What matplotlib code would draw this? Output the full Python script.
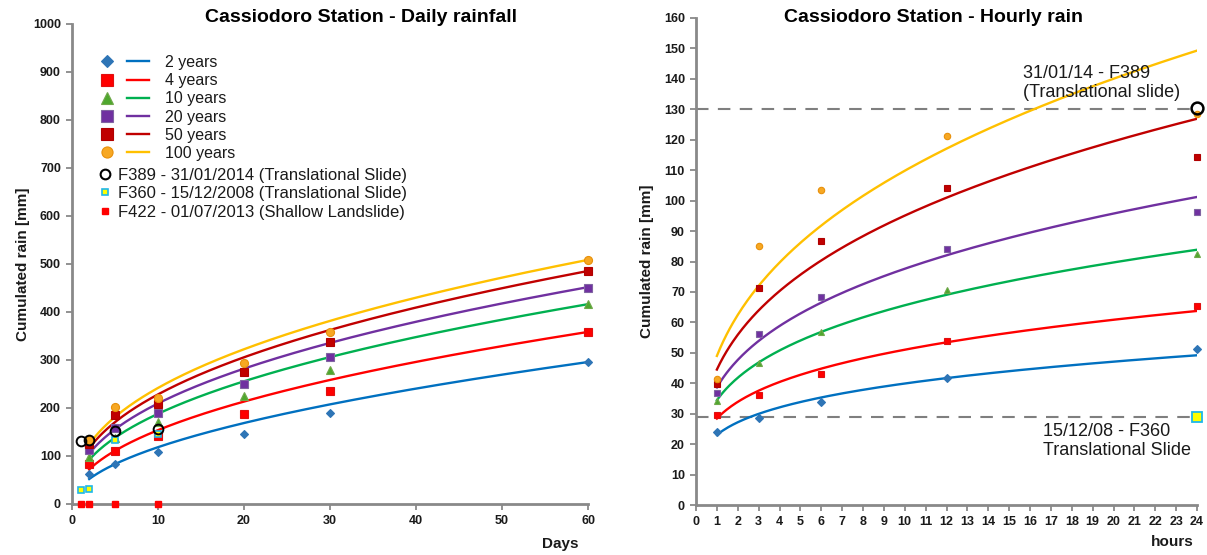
import numpy as np
import matplotlib
matplotlib.use("Agg")
import matplotlib.pyplot as plt
from matplotlib.lines import Line2D
from matplotlib.legend_handler import HandlerTuple

plt.rcParams['font.family'] = ['Liberation Sans', 'DejaVu Sans']

# ---------------- data: daily rainfall ----------------
days = [2, 5, 10, 20, 30, 60]
daily_rp2 = [62, 83, 109, 146, 190, 296]
daily_rp4 = [83, 110, 142, 187, 235, 358]
daily_rp10 = [98, 137, 171, 226, 279, 416]
daily_rp20 = [112, 158, 189, 251, 307, 451]
daily_rp50 = [125, 186, 208, 276, 338, 486]
daily_rp100 = [133, 203, 221, 294, 358, 508]
# trendline coefficients h = a * t^n
daily_curve_a = [36.5, 51.9, 67.6, 78.0, 86.6, 93.0]
daily_curve_n = [0.511, 0.472, 0.444, 0.429, 0.421, 0.415]

event_days = [1, 2, 5, 10]
f389_daily = [131, 133, 153, 156]
f360_daily = [29, 31, 133, 146]
f422_daily = [0, 0, 0, 0]

# ---------------- data: hourly rain ----------------
hours = [1, 3, 6, 12, 24]
hourly_rp2 = [24.1, 28.7, 34.0, 41.6, 51.1]
hourly_rp4 = [29.6, 36.0, 43.2, 54.0, 65.5]
hourly_rp10 = [34.3, 46.8, 56.8, 70.5, 82.6]
hourly_rp20 = [36.9, 56.3, 68.3, 84.2, 96.2]
hourly_rp50 = [39.8, 71.3, 86.8, 104.0, 114.3]
hourly_rp100 = [41.4, 85.0, 103.4, 121.2, 128.3]
f389_hour = [24]
f389_hourly = [130.4]
f360_hour = [24]
f360_hourly = [29.0]
threshold_f389 = 130
threshold_f360 = 29

labels = ["2 years", "4 years", "10 years", "20 years", "50 years", "100 years"]

# ---------------- styles ----------------
line_colors = ['#0070C0', '#FF0000', '#00B050', '#7030A0', '#C00000', '#FFC000']
mk_face = ['#2E75B6', '#FF0000', '#4EA72E', '#7030A0', '#C00000', '#F7A823']
mk_edge = ['#2E75B6', '#E01010', '#70A84A', '#8064A2', '#B00000', '#E8900A']
markers = ['D', 's', '^', 's', 's', 'o']
ms_left = [4, 5.2, 5.5, 5.2, 5.2, 5.8]
ms_right = [3.6, 4.6, 4.8, 4.6, 4.6, 4.6]
ms_leg = [5.8, 8, 8.5, 8, 8, 8]

spine_c = '#898989'
txt_c = '#1a1a1a'

fig = plt.figure(figsize=(12.07, 5.55), dpi=100)
W, H = 1207, 555
ax1 = fig.add_axes([72 / W, 51 / H, 516 / W, 480 / H])
ax2 = fig.add_axes([696 / W, 50 / H, 501 / W, 487 / H])

for ax in (ax1, ax2):
    for s in ('top', 'right'):
        ax.spines[s].set_visible(False)
    for s in ('left', 'bottom'):
        ax.spines[s].set_color(spine_c)
        ax.spines[s].set_linewidth(2)
    ax.tick_params(direction='out', length=4, width=1.3, color=spine_c,
                   labelsize=9, labelcolor=txt_c, pad=4)

# ---------------- left chart ----------------
daily_series = [daily_rp2, daily_rp4, daily_rp10, daily_rp20, daily_rp50, daily_rp100]
tt = np.linspace(min(days), max(days), 300)
for i, vals in enumerate(daily_series):
    ax1.plot(tt, daily_curve_a[i] * tt ** daily_curve_n[i], color=line_colors[i], lw=1.7, zorder=2)
for i, vals in enumerate(daily_series):
    ax1.plot(days, vals, ls='none', marker=markers[i], ms=ms_left[i],
             mfc=mk_face[i], mec=mk_edge[i], mew=0.8, zorder=3, clip_on=False)

ax1.plot(event_days, f422_daily, ls='none', marker='s', ms=3.8, mfc='#FF0000', mec='#FF0000',
         zorder=4, clip_on=False)
ax1.plot(event_days, f360_daily, ls='none', marker='s', ms=4.5, mfc='#FFFF00', mec='#1FB8E8',
         mew=1.2, zorder=4, clip_on=False)
ax1.plot(event_days, f389_daily, ls='none', marker='o', ms=7, mfc='none', mec='black',
         mew=1.4, zorder=5, clip_on=False)

ax1.set_xlim(0, 60)
ax1.set_ylim(0, 1000)
ax1.set_xticks(np.arange(0, 61, 10))
ax1.set_yticks(np.arange(0, 1001, 100))
for lab in ax1.get_xticklabels() + ax1.get_yticklabels():
    lab.set_fontweight('bold')

# legend: marker + line for each return period
rp_handles = []
for i in range(6):
    m = Line2D([], [], ls='none', marker=markers[i], ms=ms_leg[i], mfc=mk_face[i], mec=mk_edge[i], mew=0.8)
    l = Line2D([], [], color=line_colors[i], lw=1.7)
    rp_handles.append((m, l))
leg1 = ax1.legend(rp_handles, labels, handler_map={tuple: HandlerTuple(ndivide=None, pad=0.6)},
                  loc='upper left', bbox_to_anchor=(96 / W, 1 - 55 / H), bbox_transform=fig.transFigure,
                  frameon=False, fontsize=11.5, handlelength=3.3, handletextpad=1.0,
                  labelspacing=0.2, borderpad=0, borderaxespad=0)
for t in leg1.get_texts():
    t.set_color(txt_c)
ax1.add_artist(leg1)

ev_handles = [
    Line2D([], [], ls='none', marker='o', ms=7, mfc='none', mec='black', mew=1.5),
    Line2D([], [], ls='none', marker='s', ms=5, mfc='#FFFF00', mec='#1FB8E8', mew=1.2),
    Line2D([], [], ls='none', marker='s', ms=4.8, mfc='#FF0000', mec='#FF0000'),
]
ev_labels = ["F389 - 31/01/2014 (Translational Slide)",
             "F360 - 15/12/2008 (Translational Slide)",
             "F422 - 01/07/2013 (Shallow Landslide)"]
leg2 = ax1.legend(ev_handles, ev_labels, loc='upper left',
                  bbox_to_anchor=(100 / W, 1 - 168 / H), bbox_transform=fig.transFigure,
                  frameon=False, fontsize=12, handlelength=0.6, handletextpad=0.5,
                  labelspacing=0.2, borderpad=0, borderaxespad=0)
for t in leg2.get_texts():
    t.set_color(txt_c)

ax1.set_ylabel("Cumulated rain [mm]", fontsize=11, fontweight='bold', color=txt_c)
ax1.yaxis.set_label_coords((30 - 72) / 516, 0.5)
fig.text(560 / W, 1 - 544 / H, "Days", fontsize=11, fontweight='bold', color=txt_c,
         ha='center', va='center')
fig.text(361 / W, 1 - 17 / H, "Cassiodoro Station - Daily rainfall", fontsize=14,
         fontweight='bold', color='black', ha='center', va='center')

# ---------------- right chart ----------------
hourly_series = [hourly_rp2, hourly_rp4, hourly_rp10, hourly_rp20, hourly_rp50, hourly_rp100]
hh = np.linspace(min(hours), max(hours), 300)
for i, vals in enumerate(hourly_series):
    # power trendline fitted to the points (as the spreadsheet does)
    n, lna = np.polyfit(np.log(hours), np.log(vals), 1)
    ax2.plot(hh, np.exp(lna) * hh ** n, color=line_colors[i], lw=1.7, zorder=2)
for i, vals in enumerate(hourly_series):
    ax2.plot(hours, vals, ls='none', marker=markers[i], ms=ms_right[i],
             mfc=mk_face[i], mec=mk_edge[i], mew=0.8, zorder=3, clip_on=False)

ax2.plot([0, 24], [threshold_f389, threshold_f389], color='#7f7f7f', lw=1.5,
         dashes=(6, 4.5), zorder=1, clip_on=False)
ax2.plot([0, 24], [threshold_f360, threshold_f360], color='#7f7f7f', lw=1.5,
         dashes=(6, 4.5), zorder=1, clip_on=False)
ax2.plot(f360_hour, f360_hourly, ls='none', marker='s', ms=6.5, mfc='#FFFF00', mec='#1FB8E8',
         mew=1.3, zorder=4, clip_on=False)
ax2.plot(f389_hour, f389_hourly, ls='none', marker='o', ms=8.5, mfc='none', mec='black',
         mew=1.8, zorder=5, clip_on=False)

ax2.text(15.68, 138.5, "31/01/14 - F389\n(Translational slide)", fontsize=13, color=txt_c,
         ha='left', va='center', linespacing=1.15)
ax2.text(16.64, 21.0, "15/12/08 - F360\nTranslational Slide", fontsize=13, color=txt_c,
         ha='left', va='center', linespacing=1.15)

ax2.set_xlim(0, 24)
ax2.set_ylim(0, 160)
ax2.set_xticks(np.arange(0, 25, 1))
ax2.set_yticks(np.arange(0, 161, 10))
for lab in ax2.get_xticklabels() + ax2.get_yticklabels():
    lab.set_fontweight('bold')

ax2.set_ylabel("Cumulated rain [mm]", fontsize=11, fontweight='bold', color=txt_c)
ax2.yaxis.set_label_coords((654 - 696) / 501, 0.5)
fig.text(1172 / W, 1 - 542 / H, "hours", fontsize=11, fontweight='bold', color=txt_c,
         ha='center', va='center')
fig.text(934 / W, 1 - 17 / H, "Cassiodoro Station - Hourly rain", fontsize=14,
         fontweight='bold', color='black', ha='center', va='center')

fig.savefig("out.png", dpi=100)
